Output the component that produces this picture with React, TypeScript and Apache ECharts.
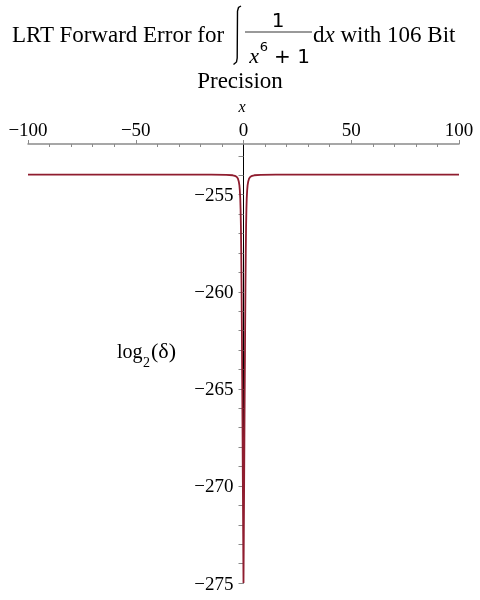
import React, { useEffect, useRef } from "react";
import * as echarts from "echarts";

// Curve samples (x, log2(delta))
const X_VALUES = [
  -100, -60, -30, -15, -8, -5, -4, -3.2, -2.6, -2.2, -1.9, -1.7, -1.5, -1.35, -1.2, -1.05, -0.9, -0.75, -0.6, -0.45, -0.3, -0.15,
  0,
  0.15, 0.3, 0.45, 0.6, 0.75, 0.9, 1.05, 1.2, 1.35, 1.5, 1.7, 1.9, 2.2, 2.6, 3.2, 4, 5, 8, 15, 30, 60, 100,
];
const Y_VALUES = [
  -253.97, -253.97, -253.97, -253.97, -253.98, -254.0, -254.03, -254.08, -254.17, -254.32, -254.52, -254.78, -255.2, -255.75, -256.6, -258.0, -259.8, -262.0, -264.5, -267.0, -269.8, -272.5,
  -275,
  -272.5, -269.8, -267.0, -264.5, -262.0, -259.8, -258.0, -256.6, -255.75, -255.2, -254.78, -254.52, -254.32, -254.17, -254.08, -254.03, -254.0, -253.98, -253.97, -253.97, -253.97, -253.97,
];

const X_MINOR_TICKS = [-90, -80, -70, -60, -40, -30, -20, -10, 10, 20, 30, 40, 60, 70, 80, 90];
const Y_LABEL_TICKS = [-275, -270, -265, -260, -255];
const Y_ALL_TICKS = [
  -275, -274, -273, -272, -271, -270, -269, -268, -267, -266, -265, -264, -263, -262, -261, -260, -259, -258, -257, -256, -255, -254, -253,
];

const SERIF = "Liberation Serif";
const SANS = "DejaVu Sans";

const GRID_LEFT = 28;
const GRID_RIGHT = 21;
const CHART_W = 480;
const X_MIN = -100;
const X_MAX = 100;

const minus = (v: number) => (v < 0 ? "\u2212" + Math.abs(v) : String(v));

export default function App() {
  const ref = useRef<HTMLDivElement>(null);
  useEffect(() => {
    if (!ref.current) return;
    const chart = echarts.init(ref.current, undefined, { renderer: "svg" });
    const data = X_VALUES.map((x, i) => [x, Y_VALUES[i]]);
    // place the y axis at x = 0 of the value x axis
    const plotW = CHART_W - GRID_LEFT - GRID_RIGHT;
    const zeroOffset = ((0 - X_MIN) / (X_MAX - X_MIN)) * plotW;
    chart.setOption({
      animation: false,
      grid: { left: GRID_LEFT, right: GRID_RIGHT, top: 144, bottom: 17, containLabel: false, outerBoundsMode: "none" },
      xAxis: [
        {
          type: "value",
          position: "top",
          min: X_MIN,
          max: X_MAX,
          interval: 50,
          axisLine: { show: true, onZero: false, lineStyle: { color: "#8a8a8a", width: 1.5 } },
          axisTick: { show: true, inside: false, length: 4, lineStyle: { color: "#8a8a8a" } },
          axisLabel: {
            show: true,
            margin: 5,
            color: "#000",
            fontFamily: SERIF,
            fontSize: 19,
            formatter: (v: number) => minus(v),
          },
          splitLine: { show: false },
        },
        {
          type: "value",
          position: "top",
          min: X_MIN,
          max: X_MAX,
          interval: 50,
          axisLine: { show: false, onZero: false },
          axisTick: { show: true, inside: true, length: 3, customValues: X_MINOR_TICKS, lineStyle: { color: "#8a8a8a" } },
          axisLabel: { show: false },
          splitLine: { show: false },
        },
      ],
      yAxis: {
        type: "value",
        position: "left",
        offset: -zeroOffset,
        min: -275,
        max: -252.39,
        interval: 5,
        axisLine: { show: true, onZero: false, lineStyle: { color: "#000", width: 1 } },
        axisTick: { show: true, inside: false, length: 5, customValues: Y_ALL_TICKS, lineStyle: { color: "#8a8a8a" } },
        axisLabel: {
          show: true,
          margin: 10,
          color: "#000",
          fontFamily: SERIF,
          fontSize: 19,
          customValues: Y_LABEL_TICKS,
          formatter: (v: number) => minus(v),
        },
        splitLine: { show: false },
      },
      series: [
        {
          type: "line",
          xAxisIndex: 0,
          data,
          showSymbol: false,
          symbol: "none",
          lineStyle: { color: "#8f1d2f", width: 1.8 },
          z: 1,
        },
      ],
      graphic: [
        { type: "text", left: 12, top: 23, style: { text: "LRT Forward Error for", font: `23px "${SERIF}"`, fill: "#000" } },
        {
          type: "polyline",
          shape: { points: [[241, 6], [238.5, 7.5], [237.5, 11], [237.2, 58], [236.5, 62], [233.5, 64.5]] },
          style: { stroke: "#000", lineWidth: 1.4, fill: "none" },
        },
        { type: "line", shape: { x1: 245, y1: 32, x2: 312, y2: 32 }, style: { stroke: "#777", lineWidth: 1.5 } },
        { type: "text", x: 278, y: 20, style: { text: "1", font: `20px "${SANS}"`, fill: "#000", align: "center", verticalAlign: "middle" } },
        { type: "text", x: 254, y: 55.5, style: { text: "x", font: `italic 22px "${SERIF}"`, lineHeight: 14, fill: "#000", align: "center", verticalAlign: "middle" } },
        { type: "text", x: 264, y: 46, style: { text: "6", font: `13px "${SANS}"`, lineHeight: 12, fill: "#000", align: "center", verticalAlign: "middle" } },
        { type: "text", x: 292, y: 56, style: { text: "+ 1", font: `20px "${SANS}"`, lineHeight: 16, fill: "#000", align: "center", verticalAlign: "middle" } },
        {
          type: "text",
          x: 313,
          y: 34.5,
          style: {
            text: "{d|d}{x|x} with 106 Bit",
            font: `23px "${SERIF}"`,
            fill: "#000",
            verticalAlign: "middle",
            rich: {
              d: { font: `23px "${SERIF}"`, fill: "#000" },
              x: { font: `italic 23px "${SERIF}"`, fill: "#000" },
            },
          },
        },
        { type: "text", x: 240, y: 80.5, style: { text: "Precision", font: `23px "${SERIF}"`, lineHeight: 20, fill: "#000", align: "center", verticalAlign: "middle" } },
        { type: "text", x: 242, y: 106, style: { text: "x", font: `italic 16px "${SERIF}"`, fill: "#000", align: "center", verticalAlign: "middle" } },
        { type: "text", x: 117, y: 351, style: { text: "log", font: `20px "${SERIF}"`, fill: "#000", verticalAlign: "middle" } },
        { type: "text", x: 143, y: 362, style: { text: "2", font: `14px "${SERIF}"`, fill: "#000", verticalAlign: "middle" } },
        { type: "text", x: 151, y: 350, style: { text: "(\u03b4)", font: `22px "${SERIF}"`, fill: "#000", verticalAlign: "middle" } },
      ],
    });
    return () => chart.dispose();
  }, []);
  return <div ref={ref} style={{ position: "fixed", left: 0, top: 0, width: 480, height: 600 }} />;
}
